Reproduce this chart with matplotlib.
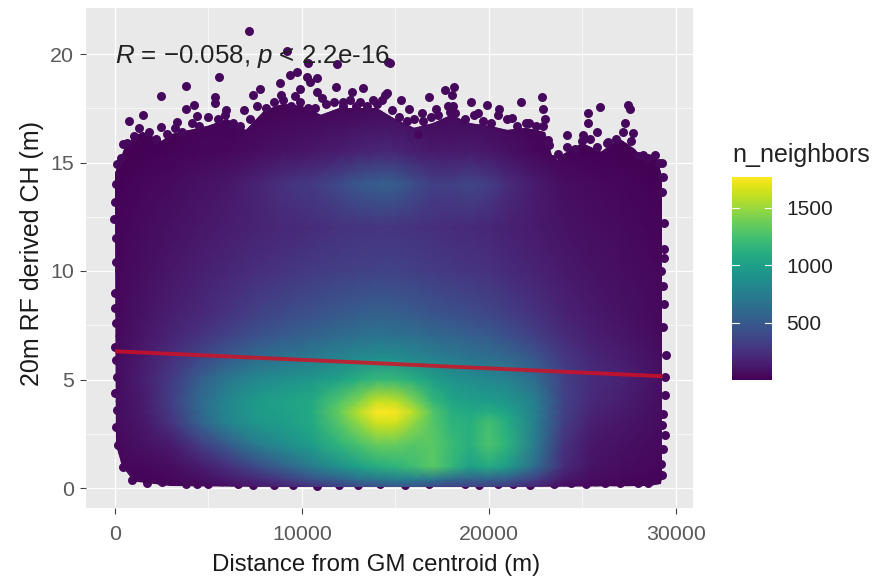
"""
Density scatter of canopy height against distance from the GM centroid.
"""
import matplotlib
matplotlib.use('Agg')
import matplotlib.pyplot as plt
import numpy as np
from matplotlib.patches import Polygon

W, H = 895, 582
PANEL = (86, 8, 693, 508)  # left, top, right, bottom in pixels
X_PER_PX = 10000 / 186.9
Y_PER_PX = 5 / 108.5
X0_PX, Y0_PX = 115, 488

x_ticks = [0, 10000, 20000, 30000]
x_minor = [5000, 15000, 25000]
y_ticks = [0, 5, 10, 15, 20]
y_minor = [2.5, 7.5, 12.5, 17.5]
legend_ticks = [500, 1000, 1500]
n_min, n_max = 1, 1770

# colour field: n_neighbors at grid_x (columns), grid_y (rows)
grid_x = [0, 1500, 3000, 4500, 6000, 7500, 9000, 10500, 12000, 13000, 14000, 15000,
          16000, 17000, 18000, 19000, 20000, 21000, 22500, 24000, 25500, 27000, 29500]
grid_y = [0, 0.4, 1, 2, 3, 3.5, 4, 5, 6, 7, 8, 10, 12, 14, 15.5, 18]
grid_n = [
    [10, 10, 20, 30, 60, 100, 150, 200, 300, 350, 400, 420, 400, 350, 300, 300, 300, 250, 150, 60, 30, 20, 10],
    [20, 20, 40, 70, 120, 200, 300, 450, 550, 650, 700, 750, 750, 700, 600, 550, 550, 500, 320, 120, 60, 40, 20],
    [30, 40, 60, 130, 240, 400, 560, 740, 900, 1000, 1100, 1150, 1230, 1320, 1180, 1000, 1080, 970, 620, 220, 90, 60, 30],
    [40, 80, 130, 300, 500, 720, 860, 980, 1150, 1250, 1350, 1350, 1300, 1320, 1200, 1120, 1270, 1140, 730, 260, 110, 80, 40],
    [50, 110, 260, 540, 790, 930, 980, 1060, 1300, 1470, 1640, 1640, 1470, 1300, 1150, 1120, 1240, 1090, 760, 320, 150, 110, 50],
    [50, 120, 300, 580, 820, 950, 1000, 1070, 1350, 1570, 1770, 1750, 1570, 1300, 1120, 1060, 1100, 1020, 760, 340, 180, 130, 50],
    [50, 130, 320, 590, 810, 960, 1020, 1070, 1280, 1430, 1620, 1600, 1420, 1180, 1040, 990, 980, 940, 750, 350, 200, 150, 50],
    [50, 150, 300, 520, 700, 820, 880, 940, 1020, 1120, 1180, 1170, 1100, 990, 910, 870, 830, 780, 620, 340, 220, 180, 60],
    [50, 130, 240, 370, 500, 610, 680, 740, 800, 850, 870, 870, 820, 770, 730, 680, 650, 590, 470, 290, 190, 140, 50],
    [40, 100, 180, 260, 350, 440, 500, 560, 620, 650, 680, 660, 640, 600, 570, 530, 500, 430, 330, 220, 150, 110, 40],
    [35, 90, 150, 200, 270, 340, 400, 450, 490, 520, 540, 530, 500, 470, 440, 410, 380, 330, 250, 170, 120, 90, 35],
    [30, 70, 110, 150, 190, 230, 270, 300, 330, 340, 350, 350, 330, 310, 290, 270, 250, 210, 170, 120, 90, 70, 30],
    [20, 50, 80, 110, 140, 170, 200, 220, 250, 260, 270, 270, 250, 240, 220, 210, 190, 160, 130, 90, 70, 50, 20],
    [10, 30, 50, 80, 110, 170, 250, 300, 400, 480, 520, 520, 420, 330, 330, 370, 320, 220, 130, 70, 45, 30, 10],
    [5, 10, 20, 30, 40, 60, 90, 110, 140, 170, 190, 190, 150, 120, 120, 130, 110, 80, 40, 20, 10, 10, 5],
    [1, 1, 1, 1, 1, 1, 1, 1, 1, 1, 1, 1, 1, 1, 1, 1, 1, 1, 1, 1, 1, 1, 1],
]

# outline of the solid mass of points
body_x = [0, 500, 1000, 1500, 2500, 3000, 4000, 5000, 6000, 7000, 8000, 9000, 10000, 11000,
          12000, 13000, 14000, 15000, 16000, 17000, 18000, 19000, 20000, 21000, 22000, 23000,
          23500, 24000, 25000, 26000, 27000, 27800, 28200, 29000, 29250,
          29250, 29200, 28500, 20000, 10000, 3000, 1000, 400, 50]
body_y = [14.5, 15.6, 16.2, 16.4, 16.0, 16.3, 16.5, 16.7, 17.0, 16.5, 17.4, 17.7, 17.6, 17.2,
          17.5, 17.5, 17.5, 17.0, 16.6, 16.8, 17.2, 16.8, 16.7, 16.5, 16.6, 16.4,
          15.0, 15.4, 15.9, 15.5, 16.1, 15.6, 15.2, 15.2, 14.4,
          0.5, 0.2, 0.1, 0.05, 0.05, 0.1, 0.3, 1.0, 2.0]

# separate points around the mass
top_x = [7170, 9190, 10340, 11880, 14590, 5560, 3780, 2440, 9720, 9360, 8830, 10260, 10790, 10430,
         11800, 13290, 14450, 7760, 7380, 5350, 5350, 3780, 4240, 9900, 9630, 10790, 11060, 12660,
         8860, 765, 1510, 90, 445, 2440, 3330, 4370, 5940, 6900, 14710, 14530, 15280, 16800, 17650,
         18140, 18010, 19050, 19890, 21700, 22840, 22910, 15750, 16400, 17170, 20560, 17920, 25290,
         25950, 27460, 27550, 25290, 25770, 27290, 27730, 24170, 25040, 26390, 28270, 28890, 29250,
         29340, 29280, 21220, 22170, 23010, 23360, 23170, 16200, 13800, 12200, 12900, 18100, 19400]
top_y = [21.07, 20.14, 19.6, 19.54, 19.65, 18.95, 18.54, 18.07, 19.18, 19.03, 18.65, 18.95, 18.88, 18.72,
         18.5, 18.42, 18.1, 18.37, 18.1, 18.0, 17.74, 17.48, 17.65, 18.39, 18.06, 18.26, 17.96, 18.26,
         18.1, 16.9, 17.2, 14.93, 15.85, 16.65, 16.88, 17.14, 17.42, 17.42, 19.57, 18.19, 17.88, 18.03, 18.34,
         18.46, 18.11, 17.8, 17.65, 17.8, 18.03, 17.46, 17.46, 17.3, 17.46, 17.46, 17.34, 17.3,
         17.57, 17.65, 17.45, 16.83, 16.4, 16.83, 16.34, 16.27, 16.27, 15.96, 15.35, 15.35, 14.96,
         14.35, 13.65, 17.04, 16.83, 17.0, 15.15, 16.04, 16.3, 17.9, 17.8, 17.6, 17.6, 17.3]
crown_x = [300, 650, 1000, 1300, 1800, 2200, 2800, 3200, 3600, 4100, 4500, 5000, 5500, 5900, 6300, 6700,
           7200, 7600, 8100, 8500, 9000, 9400, 9900, 10300, 10700, 11300, 11700, 12200, 12600, 13100, 13500,
           14000, 14300, 14800, 15200, 15600, 16000, 16500, 16900, 17300, 17800, 18200, 18700, 19200, 19700,
           20100, 20500, 21000, 21500, 22000, 22500, 22900, 23200, 23700, 24200, 24600, 25000, 25400, 25800,
           26300, 26800, 27200, 27600, 28000, 28500, 29100]
crown_y = [15.2, 15.9, 16.2, 16.6, 16.4, 16.1, 16.3, 16.6, 16.4, 16.8, 16.7, 17.1, 17.0, 17.2, 16.8, 16.7,
           17.0, 17.6, 17.5, 17.8, 17.9, 17.6, 17.8, 17.5, 17.5, 17.7, 17.8, 17.6, 17.9, 17.8, 17.6,
           17.7, 17.9, 17.4, 17.1, 16.9, 17.0, 16.9, 17.1, 17.2, 17.6, 17.3, 17.0, 17.2, 16.9,
           16.8, 17.2, 17.0, 16.7, 16.8, 16.7, 16.7, 15.8, 15.4, 15.7, 15.6, 16.0, 16.1, 15.7,
           15.9, 16.1, 16.4, 16.0, 15.3, 15.2, 15.0]
edge_x = [0, 90, 0, 160, 440, 890, 1700, 2500, 3000, 3800, 5000, 6600, 8500, 10800, 12000, 14200, 16800,
          18700, 20500, 22200, 23500, 25200, 27000, 28500, 29430, 29320, 29500, 29430, 29280, 29300,
          29200, -20, 60, 60, 0, 29350, 29350, 29200, 40, -30, 70, 20, 90, 50, 80, 29380, 29300, 29420,
          29330, 29290, 29400, 4400, 7400, 9500, 13000, 15500, 19500, 21300, 24400, 26200, 28000]
edge_y = [6.5, 5.13, 4.4, 2.0, 0.97, 0.37, 0.23, 0.27, 0.3, 0.18, 0.18, 0.17, 0.12, 0.1, 0.13, 0.18, 0.2,
          0.18, 0.17, 0.16, 0.2, 0.2, 0.22, 0.25, 2.44, 1.8, 6.13, 5.13, 0.6, 3.4, 10.0, 9.0, 11.5, 7.6,
          13.2, 8.5, 11.0, 1.1, 14.0, 12.4, 10.4, 8.3, 3.6, 2.8, 5.9, 12.2, 7.4, 4.3, 9.3, 2.9, 10.6,
          0.2, 0.15, 0.14, 0.12, 0.16, 0.15, 0.2, 0.22, 0.25, 0.22]

# fitted line ends
fit_x = [0, 29300]
fit_y = [6.3, 5.15]


def px_axes(fig, left, top, right, bottom):
    """Add an axes given its edges in image pixels."""
    return fig.add_axes([left / W, 1 - bottom / H, (right - left) / W, (bottom - top) / H])


plt.rcParams['font.family'] = 'Liberation Sans'
plt.rcParams['mathtext.fontset'] = 'custom'
plt.rcParams['mathtext.rm'] = 'Liberation Sans'
plt.rcParams['mathtext.it'] = 'Liberation Sans:italic'

fig = plt.figure(figsize=(W / 100, H / 100), dpi=100)
ax = px_axes(fig, *PANEL)
ax.set_facecolor('#e9e9e9')
ax.set_xlim((PANEL[0] - X0_PX) * X_PER_PX, (PANEL[2] - X0_PX) * X_PER_PX)
ax.set_ylim((Y0_PX - PANEL[3]) * Y_PER_PX, (Y0_PX - PANEL[1]) * Y_PER_PX)

for side in ax.spines.values():
    side.set_visible(False)
ax.set_xticks(x_ticks)
ax.set_yticks(y_ticks)
ax.set_xticks(x_minor, minor=True)
ax.set_yticks(y_minor, minor=True)
ax.grid(which='major', color='white', linewidth=0.9, zorder=0)
ax.grid(which='minor', color='white', linewidth=0.45, zorder=0)
ax.set_axisbelow(True)
ax.tick_params(which='major', length=4.2, width=0.8, color='#444444', labelcolor='#5a5a5a', labelsize=15.4)
ax.tick_params(axis='x', which='major', pad=8)
ax.tick_params(axis='y', which='major', pad=4.5)
ax.tick_params(which='minor', length=0)

# the solid mass of points, clipped to its outline
mesh = ax.pcolormesh(grid_x, grid_y, np.array(grid_n), cmap='viridis', vmin=n_min, vmax=n_max,
                     shading='gouraud', zorder=2)
outline = Polygon(np.column_stack([body_x, body_y]), closed=True, transform=ax.transData,
                  facecolor=plt.cm.viridis(0.03), edgecolor='none', zorder=1.9)
ax.add_patch(outline)
mesh.set_clip_path(outline)

dark = plt.cm.viridis(0.02)
ax.scatter(top_x, top_y, s=42, color=dark, linewidths=0, zorder=3)
ax.scatter(crown_x, crown_y, s=42, color=dark, linewidths=0, zorder=2.5)
ax.scatter(edge_x, edge_y, s=42, color=dark, linewidths=0, zorder=1.8)

ax.plot(fit_x, fit_y, color='#d60f22', alpha=0.82, linewidth=2.8, zorder=4, solid_capstyle='butt')

ax.text(0, 19.6, r'$\mathit{R}$ = $-$0.058, $\mathit{p}$ < 2.2e-16', fontsize=18.6, color='#222222',
        ha='left', va='baseline', zorder=5)

ax.set_xlabel('Distance from GM centroid (m)', fontsize=17.3, color='#1a1a1a', labelpad=7, x=0.4786)
ax.set_ylabel('20m RF derived CH (m)', fontsize=18, color='#1a1a1a', labelpad=4, y=0.509)

# colour legend
cax = px_axes(fig, 732, 177, 772, 380)
gradient = np.linspace(n_max, n_min, 256).reshape(-1, 1)
cax.imshow(gradient, cmap='viridis', vmin=n_min, vmax=n_max, aspect='auto',
           extent=[0, 1, n_min, n_max])
cax.set_xlim(0, 1)
cax.set_xticks([])
cax.set_yticks(legend_ticks)
cax.yaxis.tick_right()
cax.tick_params(axis='y', length=0, labelsize=15, labelcolor='#222222', pad=10)
for side in cax.spines.values():
    side.set_visible(False)
for value in legend_ticks:
    cax.plot([0, 0.18], [value, value], color='white', linewidth=0.8)
    cax.plot([0.82, 1], [value, value], color='white', linewidth=0.8)

fig.text(732 / W, 1 - 155 / H, 'n_neighbors', fontsize=18, color='#222222', ha='left', va='center')

fig.savefig('out.png', dpi=100)
plt.close(fig)
